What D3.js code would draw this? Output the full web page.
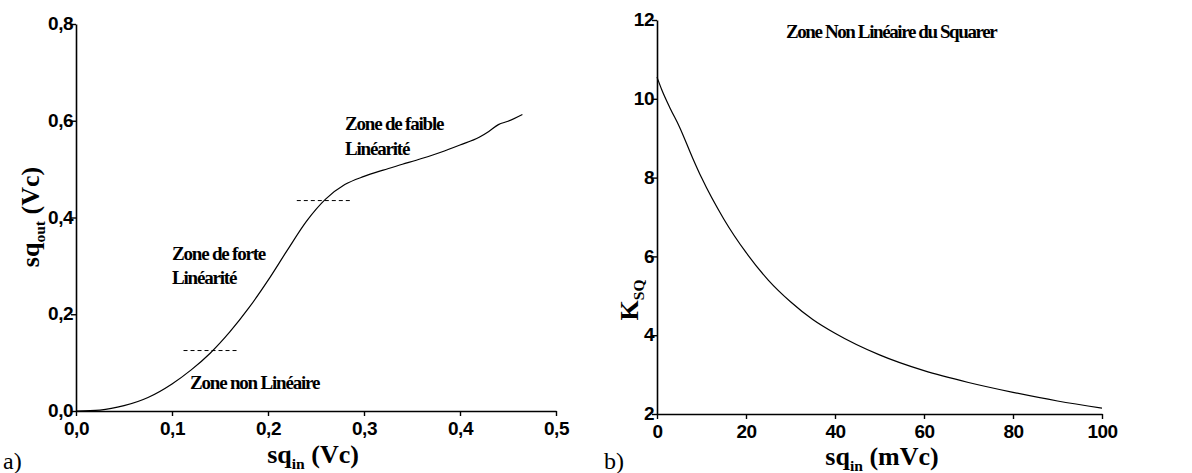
<!DOCTYPE html>
<html><head><meta charset="utf-8">
<script src="https://cdn.jsdelivr.net/npm/d3@7"></script>
<style>
body{margin:0;background:#fff;}
svg{display:block;}
</style></head>
<body>
<svg id="c" width="1192" height="473"></svg>
<script>
// ---- data panel a) ----
const sqIn = [0,0.025,0.05,0.075,0.10,0.12,0.14,0.16,0.18,0.20,0.22,0.24,0.26,0.28,0.30,0.32,0.34,0.36,0.38,0.40,0.42,0.43,0.44,0.45,0.465];
const sqOut = [0,0.002,0.011,0.028,0.056,0.085,0.120,0.163,0.213,0.270,0.332,0.392,0.438,0.468,0.485,0.498,0.510,0.522,0.535,0.550,0.566,0.578,0.592,0.599,0.613];
const xTicksA = [0,0.1,0.2,0.3,0.4,0.5];
const yTicksA = [0,0.2,0.4,0.6,0.8];
const dashY = [0.125,0.435];
const dashX0 = [0.112,0.230];
const dashX1 = [0.170,0.288];
// ---- data panel b) ----
const sqInMv = [0,1,3,5,8,10,15,20,25,30,35,40,50,60,70,80,90,100];
const kSq = [10.55,10.25,9.75,9.3,8.5,8.0,6.95,6.1,5.4,4.85,4.4,4.05,3.5,3.1,2.8,2.55,2.33,2.15];
const xTicksB = [0,20,40,60,80,100];
const yTicksB = [2,4,6,8,10,12];

const SANS = "'Liberation Sans', Arial, sans-serif";
const SERIF = "'Liberation Serif', 'Times New Roman', serif";
const svg = d3.select("#c");
const fmt = d => d3.format(".1f")(d).replace(".", ",");

function styleTicks(g){
  g.selectAll("text").attr("font-family",SANS).attr("font-weight","bold").attr("font-size",19)
    .attr("letter-spacing","-0.5px").attr("fill","#000");
  g.selectAll("path").attr("stroke","#000").attr("stroke-width",1.6);
  g.selectAll("line").attr("stroke","#000").attr("stroke-width",1.4);
}
function axes(x, y, xt, yt, xminor, yminor, xf, yf, x0, y0) {
  const gx = svg.append("g").attr("transform",`translate(0,${y0})`);
  gx.call(d3.axisBottom(x).tickValues(xminor).tickSize(3).tickFormat(""));
  gx.call(d3.axisBottom(x).tickValues(xt).tickSize(5).tickFormat(xf).tickSizeOuter(0));
  styleTicks(gx);
  gx.selectAll("text").attr("dy",0).attr("y",24);
  const gy = svg.append("g").attr("transform",`translate(${x0},0)`);
  gy.call(d3.axisLeft(y).tickValues(yminor).tickSize(3).tickFormat(""));
  gy.call(d3.axisLeft(y).tickValues(yt).tickSize(5).tickFormat(yf).tickSizeOuter(0));
  styleTicks(gy);
  gy.selectAll("text").attr("x",-3).attr("dy","0.3em");
}
function title(txt, sub, rest, size, tr){
  const t = svg.append("text").attr("font-family",SERIF).attr("font-weight","bold").attr("font-size",size)
    .attr("text-anchor","middle").attr("transform",tr).attr("fill","#000");
  t.append("tspan").text(txt);
  t.append("tspan").attr("font-size",size*0.6).attr("dy",6).text(sub);
  if (rest) t.append("tspan").attr("dy",-6).text(rest);
}
function ann(txt,x,y,size,ls){
  svg.append("text").attr("font-family",SERIF).attr("font-weight","bold").attr("font-size",size)
    .attr("letter-spacing",ls+"px").attr("x",x).attr("y",y).attr("fill","#000").text(txt);
}

// panel a
const xA = d3.scaleLinear().domain([0,0.5]).range([76,556]);
const yA = d3.scaleLinear().domain([0,0.8]).range([411,24]);
axes(xA, yA, xTicksA, yTicksA, d3.range(0,0.5001,0.05), d3.range(0,0.8001,0.1), fmt, fmt, 76, 411);
svg.append("path").datum(sqIn.map((d,i)=>[d,sqOut[i]]))
  .attr("fill","none").attr("stroke","#000").attr("stroke-width",1.2)
  .attr("d", d3.line().x(d=>xA(d[0])).y(d=>yA(d[1])).curve(d3.curveMonotoneX));
dashY.forEach((v,i)=>{
  svg.append("line").attr("x1",xA(dashX0[i])).attr("x2",xA(dashX1[i]))
    .attr("y1",yA(v)).attr("y2",yA(v)).attr("stroke","#000").attr("stroke-width",1)
    .attr("stroke-dasharray","4,3");
});
[["Zone de faible",345,130],["Linéarité",345,155],["Zone de forte",172,260],["Linéarité",172,284],["Zone non Linéaire",190,389]]
  .forEach(a=>ann(a[0],a[1],a[2],19,-1.2));

title("sq","in"," (Vc)",26,"translate(313,463)");
title("sq","out"," (Vc)",26,"translate(39,217) rotate(-90)");
svg.append("text").attr("x",3).attr("y",469).attr("font-family",SERIF).attr("font-size",24).text("a)");

// panel b
const xB = d3.scaleLinear().domain([0,100]).range([657,1102]);
const yB = d3.scaleLinear().domain([2,12]).range([414,20]);
axes(xB, yB, xTicksB, yTicksB, d3.range(0,100.1,10), d3.range(2,12.1,1), d3.format("d"), d3.format("d"), 657, 414);
svg.append("path").datum(sqInMv.map((d,i)=>[d,kSq[i]]))
  .attr("fill","none").attr("stroke","#000").attr("stroke-width",1.2)
  .attr("d", d3.line().x(d=>xB(d[0])).y(d=>yB(d[1])).curve(d3.curveMonotoneX));
ann("Zone Non Linéaire du Squarer",786,38,19,-1.4);
title("sq","in"," (mVc)",26,"translate(882,465)");
title("K","SQ","",26,"translate(638,300) rotate(-90)");
svg.append("text").attr("x",604).attr("y",469).attr("font-family",SERIF).attr("font-size",24).text("b)");
</script>
</body></html>
